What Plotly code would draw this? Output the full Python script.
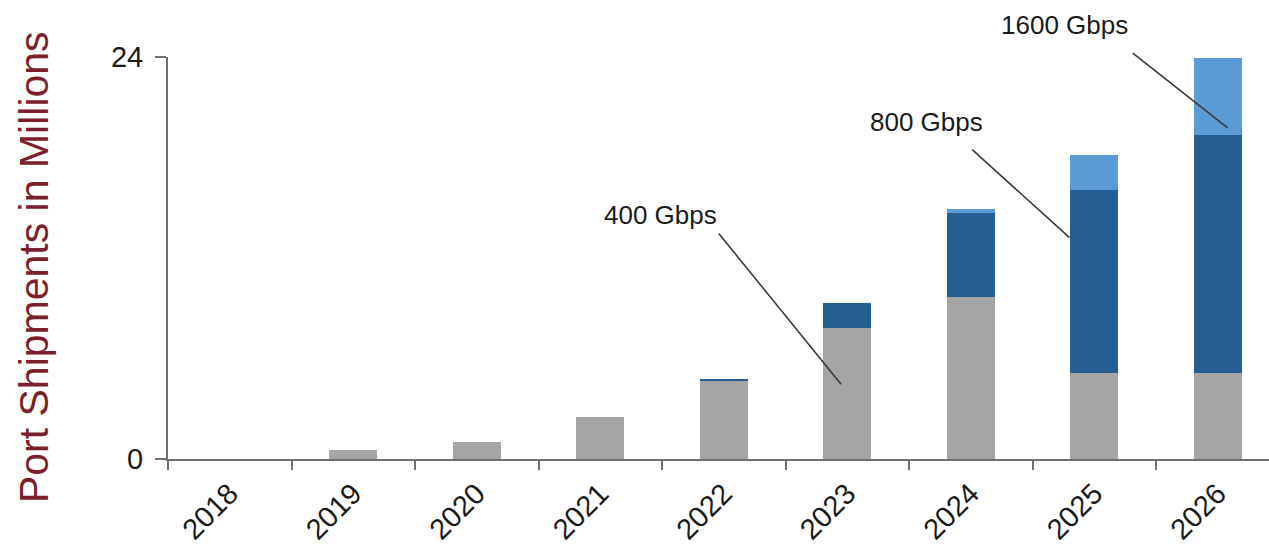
import plotly.graph_objects as go

years = ["2018", "2019", "2020", "2021", "2022", "2023", "2024", "2025", "2026"]
gbps400 = [0.0, 0.52, 1.02, 2.48, 4.66, 7.84, 9.69, 5.16, 5.12]
gbps800 = [0.0, 0.0, 0.0, 0.0, 0.12, 1.46, 4.98, 10.88, 14.23]
gbps1600 = [0.0, 0.0, 0.0, 0.0, 0.0, 0.0, 0.26, 2.13, 4.58]
y_ticks = [0, 24]
Y_MAX = 24

GRAY = "#a5a5a5"
DARK = "#255f93"
LIGHT = "#5b9bd5"
AXIS = "#707070"
FONT = "Liberation Sans, Arial, sans-serif"

fig = go.Figure()
for name, vals, col in [("400 Gbps", gbps400, GRAY),
                        ("800 Gbps", gbps800, DARK),
                        ("1600 Gbps", gbps1600, LIGHT)]:
    fig.add_trace(go.Bar(x=years, y=vals, name=name, marker=dict(color=col, line=dict(width=0)),
                         showlegend=False))

def idx(y):
    return years.index(y)

i23, i25, i26 = idx("2023"), idx("2025"), idx("2026")
# leader lines (tail near label -> head inside the labelled bar segment)
lines = [
    (i23 - 1.05, 13.55, i23 - 0.05, gbps400[i23] * 0.57),
    (i25 - 1.0, 18.55, i25 - 0.2, gbps400[i25] + gbps800[i25] * 0.74),
    (i26 - 0.7, 24.3, i26 + 0.08, gbps400[i26] + gbps800[i26] + gbps1600[i26] * 0.09),
]
for x0, y0, x1, y1 in lines:
    fig.add_annotation(text="", x=x1, y=y1, ax=x0, ay=y0, xref="x", yref="y",
                       axref="x", ayref="y", showarrow=True, arrowhead=0,
                       arrowwidth=1.6, arrowcolor="#3a3a3a", standoff=0, startstandoff=0)

labels = [("400 Gbps", i23 - 1.51, 14.57), ("800 Gbps", i25 - 1.36, 20.09),
          ("1600 Gbps", i26 - 1.24, 25.9)]
for t, x, y in labels:
    fig.add_annotation(text=t, x=x, y=y / Y_MAX, xref="x", yref="paper", showarrow=False,
                       xanchor="center", yanchor="middle",
                       font=dict(size=26, color="#1a1a1a", family=FONT))

# y-axis title
fig.add_annotation(text="Port Shipments in Millions", xref="paper", yref="paper",
                   x=-0.1215, y=0.478, textangle=-90, showarrow=False,
                   xanchor="center", yanchor="middle",
                   font=dict(size=41, color="#7a1f2b", family=FONT))

fig.update_layout(
    width=1269, height=546,
    margin=dict(l=168, r=0, t=57, b=87),
    plot_bgcolor="white", paper_bgcolor="white",
    barmode="stack", bargap=0.61,
    font=dict(family=FONT),
)
fig.update_xaxes(
    type="category", range=[-0.5, 8.415], showline=True, linecolor=AXIS, linewidth=2,
    ticks="outside", tickson="boundaries", ticklen=9, tickcolor=AXIS, tickwidth=2,
    tickangle=-45, tickfont=dict(size=29, color="#1a1a1a", family=FONT), ticklabelstandoff=4,
    showgrid=False, zeroline=False, automargin=False,
)
fig.update_yaxes(
    range=[0, Y_MAX], tickvals=y_ticks, showline=True, linecolor=AXIS, linewidth=2,
    ticks="outside", ticklen=11, tickcolor=AXIS, tickwidth=2,
    tickfont=dict(size=29, color="#1a1a1a", family=FONT), ticklabelstandoff=6,
    showgrid=False, zeroline=False, automargin=False,
)

fig.write_html("out.html")
